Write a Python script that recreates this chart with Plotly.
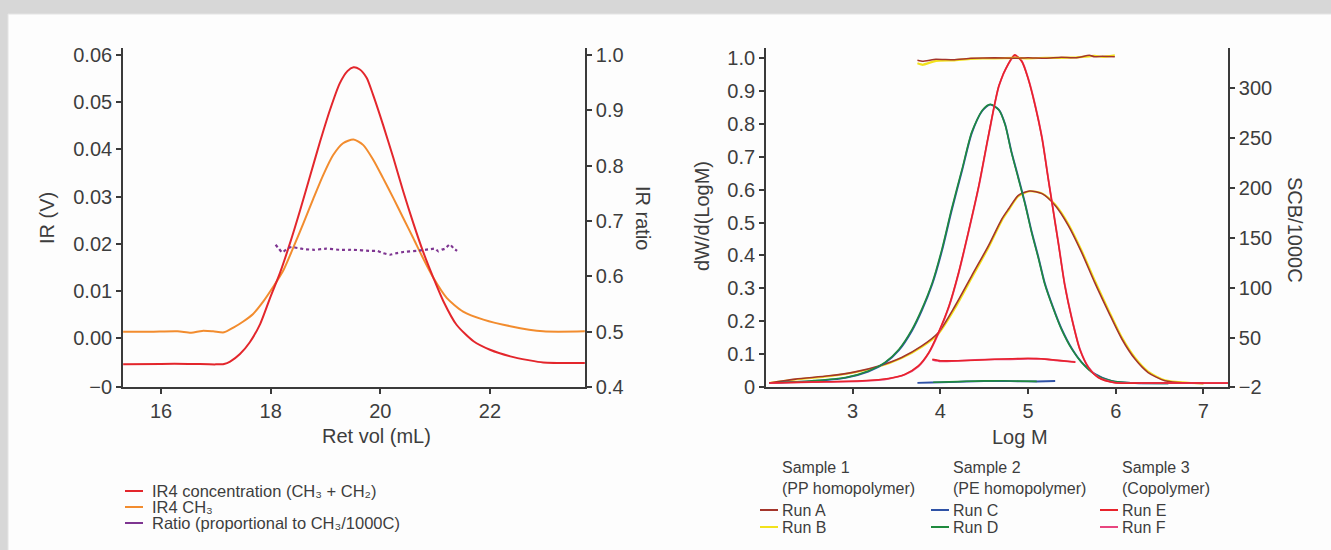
import plotly.graph_objects as go

# ---------------- Left chart data (Ret vol vs IR) ----------------
ret_vol_conc = [15.31, 16.0, 16.5, 17.0, 17.15, 17.26, 17.44, 17.62, 17.81, 17.99, 18.17, 18.35,
                18.54, 18.72, 18.90, 19.08, 19.26, 19.40, 19.51, 19.62, 19.75, 19.87, 20.05, 20.24,
                20.42, 20.60, 20.78, 20.97, 21.15, 21.39, 21.70, 22.00, 22.37, 22.70, 22.97, 23.73]
ir4_conc = [-0.0056, -0.0055, -0.0055, -0.0056, -0.0055, -0.0050, -0.0034, -0.0009, 0.0030, 0.0085,
            0.0138, 0.0200, 0.0272, 0.0344, 0.0416, 0.0483, 0.0540, 0.0566, 0.0574, 0.0570, 0.0552,
            0.0515, 0.0452, 0.0381, 0.0310, 0.0244, 0.0183, 0.0127, 0.0078, 0.0028, -0.0007,
            -0.0025, -0.0039, -0.0047, -0.0052, -0.0053]

ret_vol_ch3 = [15.31, 15.8, 16.3, 16.55, 16.75, 16.95, 17.15, 17.32, 17.50, 17.68, 17.87, 18.05,
               18.23, 18.41, 18.60, 18.78, 18.96, 19.14, 19.32, 19.51, 19.69, 19.87, 20.05, 20.24,
               20.42, 20.60, 20.78, 20.97, 21.21, 21.51, 21.88, 22.37, 22.97, 23.73]
ir4_ch3 = [0.0013, 0.0013, 0.0014, 0.0011, 0.0015, 0.0014, 0.0012, 0.0022, 0.0035, 0.0051, 0.0078,
           0.0109, 0.0143, 0.0191, 0.0244, 0.0296, 0.0346, 0.0388, 0.0413, 0.0421, 0.0409, 0.0378,
           0.0339, 0.0296, 0.0254, 0.0212, 0.0169, 0.0127, 0.0085, 0.0056, 0.0039, 0.0025, 0.0014,
           0.0014]

ret_vol_ratio = [18.09, 18.15, 18.21, 18.30, 18.38, 18.50, 18.62, 18.80, 19.02, 19.25, 19.51, 19.81,
                 19.95, 20.05, 20.18, 20.30, 20.42, 20.66, 20.90, 21.00, 21.06, 21.12, 21.18, 21.27,
                 21.33, 21.40]
ir_ratio = [0.657, 0.650, 0.643, 0.650, 0.653, 0.651, 0.649, 0.648, 0.650, 0.648, 0.648, 0.646,
            0.646, 0.642, 0.639, 0.642, 0.644, 0.646, 0.649, 0.650, 0.645, 0.648, 0.650, 0.658,
            0.651, 0.646]

left_x_ticks = [16, 18, 20, 22]
left_y_ticks = [-0.0104, 0.0, 0.01, 0.02, 0.03, 0.04, 0.05, 0.06]
left_y_labels = ["\u22120", "0.00", "0.01", "0.02", "0.03", "0.04", "0.05", "0.06"]
ratio_ticks = [0.4, 0.5, 0.6, 0.7, 0.8, 0.9, 1.0]
ratio_labels = ["0.4", "0.5", "0.6", "0.7", "0.8", "0.9", "1.0"]

# ---------------- Right chart data (Log M) ----------------
log_m_pp = [2.05, 2.35, 2.73, 3.03, 3.30, 3.56, 3.79, 3.98, 4.17, 4.36, 4.55, 4.70, 4.78, 4.89,
            5.02, 5.16, 5.31, 5.46, 5.61, 5.76, 5.92, 6.07, 6.22, 6.37, 6.56, 6.83, 7.00]
run_a = [0.012, 0.024, 0.034, 0.046, 0.064, 0.090, 0.125, 0.166, 0.247, 0.339, 0.430, 0.510, 0.542,
         0.583, 0.596, 0.588, 0.552, 0.491, 0.410, 0.318, 0.227, 0.146, 0.085, 0.044, 0.019, 0.012,
         0.011]
run_b = [0.012, 0.023, 0.033, 0.045, 0.062, 0.088, 0.122, 0.162, 0.240, 0.332, 0.424, 0.505, 0.538,
         0.580, 0.595, 0.589, 0.555, 0.496, 0.416, 0.325, 0.233, 0.151, 0.089, 0.047, 0.021, 0.013,
         0.011]

log_m_pe = [2.05, 2.54, 2.92, 3.18, 3.37, 3.53, 3.68, 3.79, 3.91, 4.02, 4.13, 4.25, 4.36, 4.48,
            4.57, 4.67, 4.74, 4.81, 4.89, 4.97, 5.04, 5.12, 5.19, 5.29, 5.38, 5.50, 5.61, 5.76,
            5.95, 6.22, 6.60]
run_c = [0.012, 0.018, 0.028, 0.047, 0.073, 0.112, 0.172, 0.232, 0.313, 0.414, 0.536, 0.659, 0.772,
         0.840, 0.859, 0.843, 0.799, 0.718, 0.638, 0.556, 0.475, 0.394, 0.318, 0.240, 0.179, 0.117,
         0.076, 0.040, 0.019, 0.012, 0.011]
run_d = [0.012, 0.019, 0.029, 0.049, 0.075, 0.115, 0.176, 0.237, 0.318, 0.420, 0.542, 0.664, 0.776,
         0.842, 0.860, 0.842, 0.797, 0.715, 0.634, 0.552, 0.471, 0.390, 0.314, 0.237, 0.176, 0.115,
         0.075, 0.039, 0.019, 0.012, 0.011]

log_m_co = [2.05, 2.54, 3.11, 3.41, 3.60, 3.75, 3.87, 3.98, 4.10, 4.21, 4.32, 4.44, 4.55, 4.67,
            4.78, 4.85, 4.93, 5.00, 5.08, 5.16, 5.23, 5.29, 5.35, 5.42, 5.50, 5.59, 5.69, 5.80,
            5.99, 6.30, 6.80, 7.28]
run_e = [0.012, 0.015, 0.019, 0.026, 0.039, 0.064, 0.105, 0.166, 0.247, 0.349, 0.471, 0.613, 0.766,
         0.918, 0.985, 1.010, 0.990, 0.939, 0.857, 0.756, 0.634, 0.532, 0.430, 0.308, 0.207, 0.115,
         0.059, 0.029, 0.013, 0.012, 0.012, 0.012]
run_f = [0.012, 0.015, 0.018, 0.025, 0.038, 0.062, 0.103, 0.163, 0.244, 0.346, 0.468, 0.610, 0.763,
         0.916, 0.984, 1.008, 0.991, 0.941, 0.860, 0.759, 0.637, 0.535, 0.433, 0.311, 0.209, 0.117,
         0.060, 0.030, 0.013, 0.012, 0.012, 0.012]

# SCB/1000C traces (right axis)
log_m_scb_pp = [3.74, 3.80, 3.95, 4.15, 4.35, 4.62, 4.85, 5.00, 5.20, 5.38, 5.55, 5.70, 5.76, 5.85, 5.99]
scb_a = [328, 327, 329, 328.5, 330, 330.5, 330, 330.5, 330, 331, 330.5, 333, 331.5, 332, 331.5]
scb_b = [325, 323.5, 327.5, 328, 329.5, 330, 330.5, 330, 330.5, 330.5, 331, 332, 332.5, 331.5, 333]

log_m_scb_pe_c = [3.74, 3.90, 4.10, 4.30, 4.50, 4.70, 4.90, 5.10, 5.31]
scb_c = [5.5, 5.8, 6.2, 6.8, 7.2, 7.3, 7.0, 6.8, 7.3]
log_m_scb_pe_d = [3.92, 4.10, 4.30, 4.50, 4.70, 4.90, 5.10]
scb_d = [6.0, 6.4, 7.0, 7.4, 7.5, 7.2, 6.9]

log_m_scb_co = [3.91, 4.00, 4.20, 4.40, 4.62, 4.80, 5.00, 5.15, 5.31, 5.45, 5.54]
scb_e = [29, 27.5, 27.5, 28, 29, 29.5, 30, 29.5, 28.3, 27, 26]
scb_f = [28.5, 27, 27.5, 28.5, 29, 29, 29.5, 29.5, 28, 27, 26.5]

right_x_ticks = [3, 4, 5, 6, 7]
dw_ticks = [0, 0.1, 0.2, 0.3, 0.4, 0.5, 0.6, 0.7, 0.8, 0.9, 1.0]
dw_labels = ["0", "0.1", "0.2", "0.3", "0.4", "0.5", "0.6", "0.7", "0.8", "0.9", "1.0"]
scb_ticks = [1.3, 50, 100, 150, 200, 250, 300]
scb_labels = ["\u22122", "50", "100", "150", "200", "250", "300"]

# ---------------- Styling ----------------
W, H = 1331, 550
FONT = "Liberation Sans, Arial, sans-serif"
AX = "#3a3a3a"
TXT = "#3d3d3d"

C_CONC = "#e3262c"
C_CH3 = "#f28c2e"
C_RATIO = "#7e3591"
C_A = "#a4352b"
C_B = "#f2e21c"
C_C = "#2f52a6"
C_D = "#1f8a3e"
C_E = "#e8232b"
C_F = "#e8457f"

fig = go.Figure()


def line(x, y, color, xa, ya, width=1.8, dash="solid", smooth=0.7):
    fig.add_trace(go.Scatter(x=x, y=y, mode="lines", xaxis=xa, yaxis=ya, showlegend=False,
                             hoverinfo="skip",
                             line=dict(color=color, width=width, dash=dash, shape="spline",
                                       smoothing=smooth)))


# left chart
line(ret_vol_ch3, ir4_ch3, C_CH3, "x", "y", width=2)
line(ret_vol_conc, ir4_conc, C_CONC, "x", "y", width=2)
line(ret_vol_ratio, ir_ratio, C_RATIO, "x", "y2", width=2.2, dash="dot", smooth=0.3)

# right chart - MWD
line(log_m_pp, run_b, C_B, "x2", "y3", width=2)
line(log_m_pp, run_a, C_A, "x2", "y3", width=1.6)
line(log_m_pe, run_c, C_C, "x2", "y3", width=1.8)
line(log_m_pe, run_d, C_D, "x2", "y3", width=1.6)
line(log_m_co, run_f, C_F, "x2", "y3", width=1.8)
line(log_m_co, run_e, C_E, "x2", "y3", width=1.6)
# right chart - SCB
line(log_m_scb_pp, scb_b, C_B, "x2", "y4", width=2.2, smooth=0.3)
line(log_m_scb_pp, scb_a, C_A, "x2", "y4", width=1.6, smooth=0.3)
line(log_m_scb_pe_c, scb_c, C_C, "x2", "y4", width=1.8, smooth=0.3)
line(log_m_scb_pe_d, scb_d, C_D, "x2", "y4", width=1.6, smooth=0.3)
line(log_m_scb_co, scb_f, C_F, "x2", "y4", width=1.8, smooth=0.3)
line(log_m_scb_co, scb_e, C_E, "x2", "y4", width=1.6, smooth=0.3)


def px(v):
    return v / W


def py(v):
    return 1 - v / H


ydom = [py(387), py(48)]
axis_common = dict(showline=True, linecolor=AX, linewidth=1.7, ticks="outside", ticklen=5,
                   tickwidth=1.5, tickcolor=AX, showgrid=False, zeroline=False,
                   tickfont=dict(family=FONT, size=20, color=TXT), automargin=False)

fig.update_layout(
    width=W, height=H,
    margin=dict(l=0, r=0, t=0, b=0, pad=0),
    paper_bgcolor="#d7d7d7",
    plot_bgcolor="rgba(0,0,0,0)",
    font=dict(family=FONT, color=TXT),
    xaxis=dict(domain=[px(123), px(585)], anchor="y", range=[15.307, 23.733],
               tickvals=left_x_ticks, **axis_common),
    yaxis=dict(domain=ydom, anchor="x", range=[-0.0104, 0.0615], tickvals=left_y_ticks,
               ticktext=left_y_labels, **axis_common),
    yaxis2=dict(overlaying="y", side="right", anchor="x", range=[0.4, 1.0127],
                tickvals=ratio_ticks, ticktext=ratio_labels, **axis_common),
    xaxis2=dict(domain=[px(766), px(1228)], anchor="y3", range=[2.014, 7.28],
                tickvals=right_x_ticks, **axis_common),
    yaxis3=dict(domain=ydom, anchor="x2", range=[0, 1.031], tickvals=dw_ticks,
                ticktext=dw_labels, **axis_common),
    yaxis4=dict(overlaying="y3", side="right", anchor="x2", range=[1.3, 340.3],
                tickvals=scb_ticks, ticktext=scb_labels, **axis_common),
)

shapes = [dict(type="rect", xref="paper", yref="paper", x0=px(8), x1=1.01, y0=-0.01, y1=py(14),
               fillcolor="#fdfdfd", line=dict(color="#e4e4e4", width=1), layer="below")]

annotations = []


def text(x, y, s, size=20, angle=0, xanchor="center"):
    annotations.append(dict(x=px(x), y=py(y), xref="paper", yref="paper", text=s, showarrow=False,
                            textangle=angle, xanchor=xanchor, yanchor="middle",
                            font=dict(family=FONT, size=size, color=TXT)))


# axis titles
text(47, 218, "IR (V)", angle=-90)
text(643, 218, "IR ratio", angle=90)
text(376, 436, "Ret vol (mL)")
text(702, 216, "dW/d(LogM)", angle=-90)
text(1295, 230, "SCB/1000C", angle=90)
text(1020, 437, "Log M")

# left legend
left_leg = [("IR4 concentration (CH\u2083 + CH\u2082)", C_CONC, 491),
            ("IR4 CH\u2083", C_CH3, 507),
            ("Ratio (proportional to CH\u2083/1000C)", C_RATIO, 523)]
for label, col, yy in left_leg:
    shapes.append(dict(type="line", xref="paper", yref="paper", x0=px(125), x1=px(143),
                       y0=py(yy), y1=py(yy), line=dict(color=col, width=2)))
    text(150, yy, label, size=16.5, xanchor="left")

# right legend
groups = [(780, "Sample 1", "(PP homopolymer)", [("Run A", C_A), ("Run B", C_B)]),
          (951, "Sample 2", "(PE homopolymer)", [("Run C", C_C), ("Run D", C_D)]),
          (1120, "Sample 3", "(Copolymer)", [("Run E", C_E), ("Run F", C_F)])]
for gx, h1, h2, runs in groups:
    text(gx, 467, h1, size=16, xanchor="left")
    text(gx, 488, h2, size=16, xanchor="left")
    for i, (lab, col) in enumerate(runs):
        yy = 510 + 17 * i
        shapes.append(dict(type="line", xref="paper", yref="paper", x0=px(gx - 20),
                           x1=px(gx - 2), y0=py(yy), y1=py(yy), line=dict(color=col, width=2)))
        text(gx, yy, lab, size=16, xanchor="left")

fig.update_layout(shapes=shapes, annotations=annotations)
fig.write_html("out.html", config={"displayModeBar": False},
               post_script="document.body.style.margin='0px';document.body.style.overflow='hidden';")
